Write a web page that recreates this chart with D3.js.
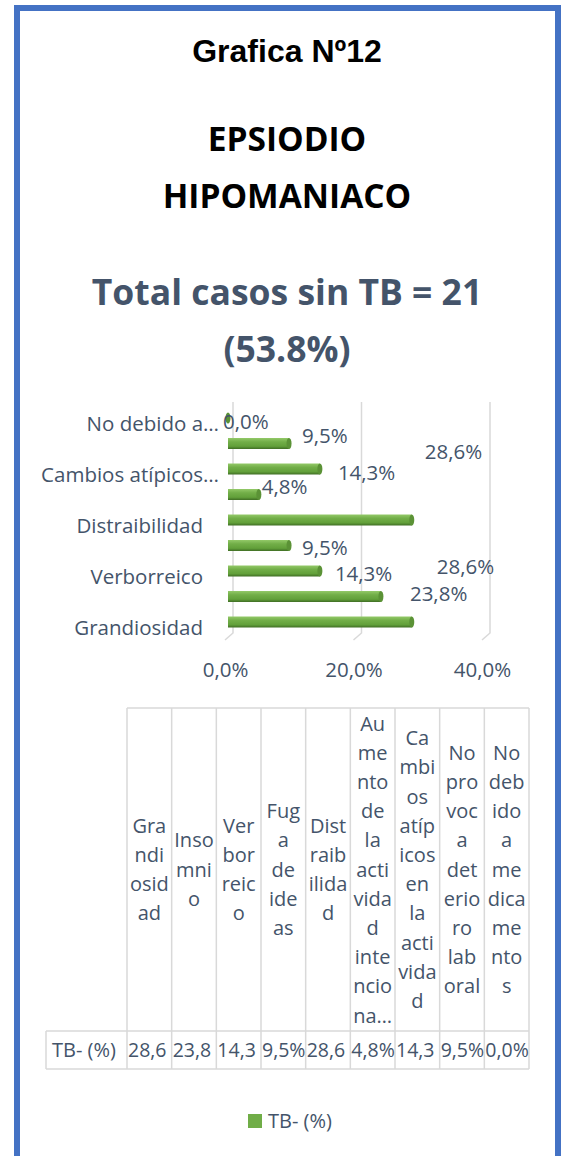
<!DOCTYPE html>
<html>
<head>
<meta charset="utf-8">
<script src="https://cdn.jsdelivr.net/npm/d3@7"></script>
<style>
  body { margin: 0; background: #fff; }
</style>
</head>
<body>
<div id="chart"></div>
<script>
// data, bottom bar first
const categories = ["Grandiosidad", "Insomnio", "Verborreico", "Fuga de ideas", "Distraibilidad",
  "Aumento de la actividad intencionada", "Cambios atípicos en la actividad",
  "No provoca deterioro laboral", "No debido a medicamentos"];
const values = [28.6, 23.8, 14.3, 9.5, 28.6, 4.8, 14.3, 9.5, 0.0];
const axisLabels = ["Grandiosidad", "", "Verborreico", "", "Distraibilidad", "", "Cambios atípicos…", "", "No debido a…"];
const headerLines = [
  ["Gra", "ndi", "osid", "ad"],
  ["Inso", "mni", "o"],
  ["Ver", "bor", "reic", "o"],
  ["Fug", "a", "de", "ide", "as"],
  ["Dist", "raib", "ilida", "d"],
  ["Au", "me", "nto", "de", "la", "acti", "vida", "d", "inte", "ncio", "na…"],
  ["Ca", "mbi", "os", "atíp", "icos", "en", "la", "acti", "vida", "d"],
  ["No", "pro", "voc", "a", "det", "erio", "ro", "lab", "oral"],
  ["No", "deb", "ido", "a", "me", "dica", "me", "nto", "s"]
];
const xTicks = [0, 20, 40];
const seriesName = "TB- (%)";
const titleLines = ["Grafica Nº12"];
const headLines = ["EPSIODIO", "HIPOMANIACO"];
const subLines = ["Total casos sin TB = 21", "(53.8%)"];

// where Excel dropped each data label relative to its bar end
const labelNudge = [[25, -55], [29, -3], [15, 3], [13, 2], [13, -68], [3, -8], [18, 4], [13, -8], [-5, 4]];

const width = 561, height = 1156;
const textCol = "#44546A";
const font = "'Open Sans', sans-serif";
const fmt = v => d3.format(".1f")(v).replace(".", ",");

const svg = d3.select("#chart").append("svg")
  .attr("width", width)
  .attr("height", height)
  .style("display", "block");

const defs = svg.append("defs");
const grad = defs.append("linearGradient").attr("id", "barGrad")
  .attr("x1", 0).attr("y1", 0).attr("x2", 0).attr("y2", 1);
grad.append("stop").attr("offset", 0).attr("stop-color", "#93c968");
grad.append("stop").attr("offset", 0.35).attr("stop-color", "#72ae48");
grad.append("stop").attr("offset", 0.75).attr("stop-color", "#62a03a");
grad.append("stop").attr("offset", 1).attr("stop-color", "#3f6d24");

// frame
svg.append("rect")
  .attr("x", 17).attr("y", 8)
  .attr("width", 541).attr("height", 1200)
  .attr("fill", "none")
  .attr("stroke", "#4472C4")
  .attr("stroke-width", 6);

// titles
svg.append("text")
  .attr("x", 287).attr("y", 62)
  .attr("text-anchor", "middle")
  .style("font", "bold 32px 'Liberation Sans', Arial, sans-serif")
  .attr("fill", "#000")
  .text(titleLines[0]);

svg.append("g").selectAll("text")
  .data(headLines)
  .join("text")
    .attr("x", 287)
    .attr("y", (d, i) => 151 + i * 56.5)
    .attr("text-anchor", "middle")
    .style("font", `bold 33.5px ${font}`)
    .attr("fill", "#000")
    .text(d => d);

svg.append("g").selectAll("text")
  .data(subLines)
  .join("text")
    .attr("x", 287)
    .attr("y", (d, i) => 305 + i * 57)
    .attr("text-anchor", "middle")
    .style("font", `bold 35.5px ${font}`)
    .attr("fill", textCol)
    .text(d => d);

// bar chart
const x = d3.scaleLinear([0, 40], [228, 485]);
const y = d3.scalePoint(categories, [622, 418]);

svg.append("g")
  .attr("fill", "none")
  .attr("stroke", "#d9d9d9")
  .attr("stroke-width", 1.5)
  .selectAll("path")
  .data(xTicks)
  .join("path")
    .attr("d", d => `M${x(d) + 5},402V633L${x(d) - 3},640`);

const bars = svg.append("g").selectAll("g")
  .data(values)
  .join("g");
bars.append("rect")
  .attr("x", x(0))
  .attr("y", (d, i) => y(categories[i]) - 5.5)
  .attr("width", d => x(d) - x(0))
  .attr("height", 11)
  .attr("fill", "url(#barGrad)");
bars.append("ellipse")
  .attr("cx", d => x(d))
  .attr("cy", (d, i) => y(categories[i]))
  .attr("rx", 2.5)
  .attr("ry", 5.5)
  .attr("fill", "#5b9236");

svg.append("g")
  .style("font", `20.5px ${font}`)
  .attr("fill", textCol)
  .selectAll("text")
  .data(values)
  .join("text")
    .attr("x", (d, i) => x(d) + labelNudge[i][0])
    .attr("y", (d, i) => y(categories[i]) + labelNudge[i][1] + 7)
    .text(d => fmt(d) + "%");

// category axis
const yAxis = svg.append("g")
  .attr("transform", "translate(219,0)")
  .call(d3.axisLeft(y).tickSize(0).tickPadding(0).tickFormat((d, i) => axisLabels[i]));
yAxis.select(".domain").remove();
yAxis.selectAll("text")
  .attr("dy", null)
  .attr("y", 12)
  .attr("x", d => axisLabels[categories.indexOf(d)].endsWith("…") ? 0 : -16)
  .attr("fill", textCol)
  .style("font", `20.5px ${font}`);

// value axis
const xAxis = svg.append("g")
  .attr("transform", "translate(-3,677)")
  .call(d3.axisBottom(x).tickValues(xTicks).tickSize(0).tickFormat(d => fmt(d) + "%"));
xAxis.select(".domain").remove();
xAxis.selectAll("text")
  .attr("dy", null)
  .attr("y", 0)
  .attr("fill", textCol)
  .style("font", `20.5px ${font}`);

// data table
const col = d3.scaleBand(categories, [127, 529]);
const tTop = 708, tMid = 1031, tBot = 1069;
const lineH = 29.2;
const grid = svg.append("g").attr("stroke", "#d9d9d9").attr("stroke-width", 1.5).attr("fill", "none");
grid.append("path").attr("d", `M${col.range()[0]},${tTop}H${col.range()[1]}`);
grid.append("path").attr("d", `M46,${tMid}H${col.range()[1]}M46,${tBot}H${col.range()[1]}M46,${tMid}V${tBot}`);
grid.selectAll(".v")
  .data(categories.concat(null))
  .join("path")
    .attr("d", d => {
      const xx = d === null ? col.range()[1] : col(d);
      return `M${xx},${tTop}V${tBot}`;
    });

const head = svg.append("g")
  .style("font", `20px ${font}`)
  .attr("fill", textCol)
  .attr("text-anchor", "middle");
categories.forEach((c, i) => {
  const lines = headerLines[i];
  const cy = (tTop + tMid) / 2 - (lines.length - 1) / 2 * lineH;
  head.append("g").selectAll("text")
    .data(lines)
    .join("text")
      .attr("x", col(c) + col.bandwidth() / 2)
      .attr("y", (d, j) => cy + j * lineH + 7)
      .text(d => d);
});

svg.append("text")
  .attr("x", 52).attr("y", 1057)
  .style("font", `20px ${font}`)
  .attr("fill", textCol)
  .text(seriesName);

// values cut to what fits in the cell, like the spreadsheet does
svg.append("g")
  .style("font", `19.5px ${font}`)
  .attr("fill", textCol)
  .selectAll("text")
  .data(values)
  .join("text")
    .attr("x", (d, i) => col(categories[i]) + 1)
    .attr("y", 1057)
    .text(d => fmt(d) + "%")
    .each(function() {
      const t = d3.select(this);
      let s = t.text();
      while (s.length > 1 && this.getComputedTextLength() > col.bandwidth()) {
        s = s.slice(0, -1);
        t.text(s);
      }
    });

// legend
svg.append("rect")
  .attr("x", 248).attr("y", 1114)
  .attr("width", 14).attr("height", 14)
  .attr("fill", "#70AD47");
svg.append("text")
  .attr("x", 268).attr("y", 1128)
  .style("font", `20px ${font}`)
  .attr("fill", textCol)
  .text(seriesName);
</script>
</body>
</html>
